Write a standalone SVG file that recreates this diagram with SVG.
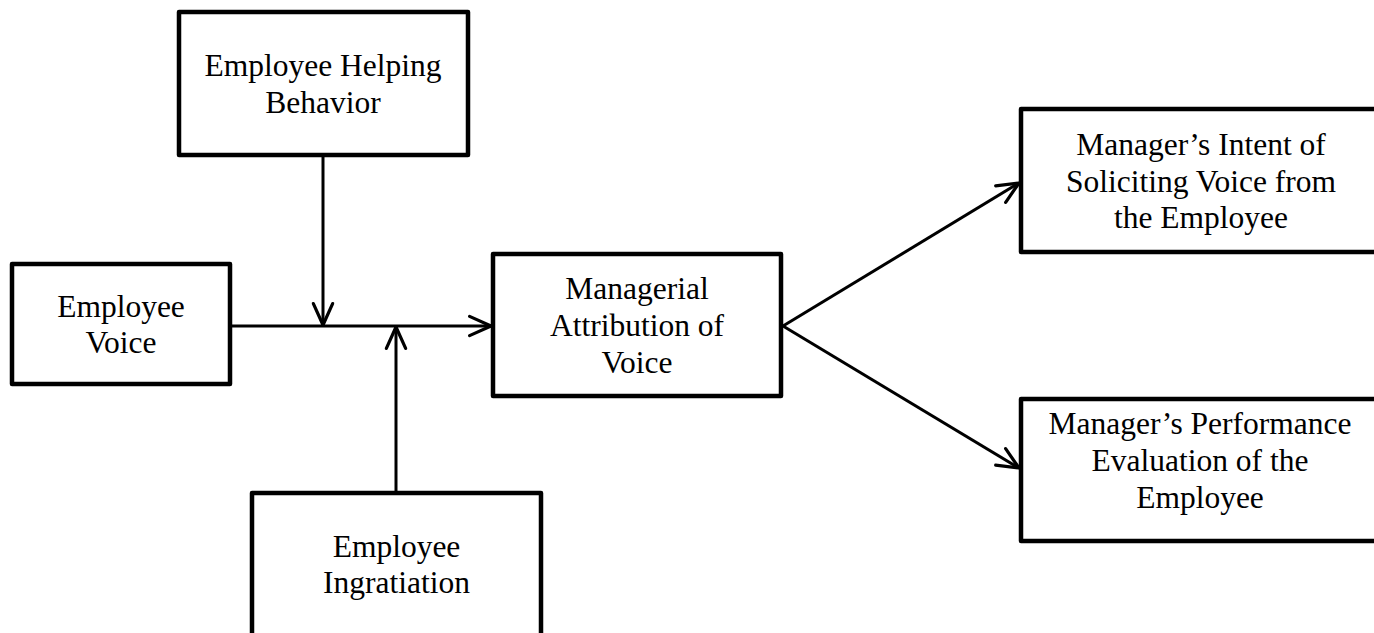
<svg xmlns="http://www.w3.org/2000/svg" width="1374" height="633" viewBox="0 0 1374 633">
<style>
.box{fill:#fff;stroke:#000;stroke-width:4.5;stroke-linejoin:round}
.t{font-family:"Liberation Serif","Times New Roman",serif;font-size:31.5px;fill:#000;text-anchor:middle}
.c{fill:none;stroke:#000;stroke-width:3;marker-end:url(#ah)}
</style>
<defs>
<marker id="ah" markerUnits="userSpaceOnUse" markerWidth="30" markerHeight="30" refX="0" refY="0" viewBox="-24 -12 28 24" orient="auto" overflow="visible">
<path d="M-20,-9 L0,0 L-20,9" fill="none" stroke="#000" stroke-width="3" stroke-linecap="round" stroke-linejoin="round"/>
</marker>
</defs>
<rect width="1374" height="633" fill="#fff"/>
<g id="connectors">
<line class="c" x1="230" y1="326" x2="491" y2="326"/>
<line class="c" x1="323" y1="155" x2="323" y2="325"/>
<line class="c" x1="396" y1="493" x2="396" y2="327"/>
<line class="c" x1="783" y1="326" x2="1019" y2="183"/>
<line class="c" x1="783" y1="326" x2="1019" y2="468"/>
</g>
<g id="helping">
<rect class="box" x="179" y="12" width="289" height="143"/>
<text class="t" x="323" y="76">Employee Helping</text>
<text class="t" x="323" y="113">Behavior</text>
</g>
<g id="voice">
<rect class="box" x="12" y="264" width="218" height="120"/>
<text class="t" x="121" y="317">Employee</text>
<text class="t" x="121" y="353">Voice</text>
</g>
<g id="ingratiation">
<rect class="box" x="252" y="493" width="289" height="160"/>
<text class="t" x="396.5" y="557">Employee</text>
<text class="t" x="396.5" y="593">Ingratiation</text>
</g>
<g id="attribution">
<rect class="box" x="493" y="254" width="288" height="142"/>
<text class="t" x="637" y="299">Managerial</text>
<text class="t" x="637" y="336">Attribution of</text>
<text class="t" x="637" y="373">Voice</text>
</g>
<g id="intent">
<rect class="box" x="1021" y="109" width="370" height="143"/>
<text class="t" x="1201" y="155">Manager’s Intent of</text>
<text class="t" x="1201" y="192">Soliciting Voice from</text>
<text class="t" x="1201" y="228">the Employee</text>
</g>
<g id="evaluation">
<rect class="box" x="1021" y="399" width="370" height="142"/>
<text class="t" x="1200" y="434">Manager’s Performance</text>
<text class="t" x="1200" y="471">Evaluation of the</text>
<text class="t" x="1200" y="508">Employee</text>
</g>
</svg>
